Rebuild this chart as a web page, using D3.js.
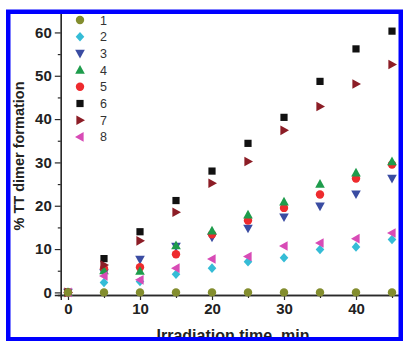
<!DOCTYPE html>
<html><head><meta charset="utf-8">
<script src="https://cdn.jsdelivr.net/npm/d3@7"></script>
<style>html,body{margin:0;padding:0;background:#fff;}svg{display:block;}</style>
</head><body>
<svg id="chart" width="405" height="341"></svg>
<script>
const times = [0, 5, 10, 15, 20, 25, 30, 35, 40, 45];
const seriesNames = ["1", "2", "3", "4", "5", "6", "7", "8"];
const s1 = [0, 0, 0, 0, 0, 0, 0, 0, 0, 0];
const s2 = [0, 2.3, 2.5, 4.2, 5.6, 7.1, 8.0, 9.9, 10.5, 12.2];
const s3 = [0, 4.5, 7.6, 10.6, 12.7, 14.8, 17.4, 19.9, 22.7, 26.3];
const s4 = [0, 5.0, 4.9, 10.8, 14.2, 17.9, 20.9, 25.0, 27.6, 30.2];
const s5 = [0, 5.5, 5.8, 8.8, 13.4, 16.6, 19.5, 22.6, 26.3, 29.5];
const s6 = [0, 7.8, 14.0, 21.2, 28.0, 34.4, 40.4, 48.7, 56.2, 60.3];
const s7 = [0, 6.3, 11.9, 18.5, 25.2, 30.2, 37.4, 42.9, 48.1, 52.6];
const s8 = [0, 3.8, 2.9, 5.6, 7.7, 8.3, 10.7, 11.4, 12.4, 13.7];
const yTicks = [0, 10, 20, 30, 40, 50, 60];
const xTicks = [0, 10, 20, 30, 40];
const yTitle = "% TT dimer formation";
const xTitle = "Irradiation time, min";

const values = [s1, s2, s3, s4, s5, s6, s7, s8];
const colors = ["#838d2e", "#35bcd6", "#3a4ca2", "#1e9c4c", "#ee2b2e", "#111111", "#8c1d26", "#d84bb6"];
const shapes = ["circle", "diamond", "tridown", "triup", "circle", "square", "triright", "trileft"];
const drawOrder = [1, 2, 4, 3, 5, 6, 7, 0];

const svg = d3.select("#chart");
const x = d3.scaleLinear().domain([-1, 46]).range([60.8, 399.2]);
const y = d3.scaleLinear().domain([-0.6, 64.6]).range([295, 12.5]);

function markerPath(shape) {
  const p = d3.path();
  if (shape === "circle") { p.arc(0, 0, 4.2, 0, 2 * Math.PI); }
  else if (shape === "square") { p.rect(-3.6, -3.6, 7.2, 7.2); }
  else if (shape === "diamond") { p.moveTo(0, -4.8); p.lineTo(4.3, 0); p.lineTo(0, 4.8); p.lineTo(-4.3, 0); p.closePath(); }
  else if (shape === "triup") { p.moveTo(0, -5); p.lineTo(4.8, 3.6); p.lineTo(-4.8, 3.6); p.closePath(); }
  else if (shape === "tridown") { p.moveTo(0, 5); p.lineTo(4.8, -3.6); p.lineTo(-4.8, -3.6); p.closePath(); }
  else if (shape === "triright") { p.moveTo(5, 0); p.lineTo(-3.6, 4.8); p.lineTo(-3.6, -4.8); p.closePath(); }
  else if (shape === "trileft") { p.moveTo(-5, 0); p.lineTo(3.6, 4.8); p.lineTo(3.6, -4.8); p.closePath(); }
  return p.toString();
}

svg.append("defs").append("clipPath").attr("id", "clip")
  .append("rect").attr("x", 10).attr("y", 13).attr("width", 389).attr("height", 325);

const g = svg.append("g").attr("clip-path", "url(#clip)");

// axes
const yAxisMinor = d3.axisLeft(y).tickValues([5, 15, 25, 35, 45, 55]).tickSize(3).tickFormat("");
const yAxis = d3.axisLeft(y).tickValues(yTicks).tickSize(6).tickPadding(3);
const xAxisMinor = d3.axisBottom(x).tickValues([5, 15, 25, 35, 45]).tickSize(3).tickFormat("");
const xAxis = d3.axisBottom(x).tickValues(xTicks).tickSize(5).tickPadding(3);

function styleAxis(sel) {
  sel.select(".domain").attr("stroke", "#2a2a2a").attr("stroke-width", 1.4);
  sel.selectAll(".tick line").attr("stroke", "#2a2a2a").attr("stroke-width", 1.2);
  sel.selectAll(".tick text").attr("fill", "#222").attr("font-family", "Liberation Sans, Arial, sans-serif")
    .attr("font-weight", "bold").attr("font-size", 15);
}
g.append("g").attr("transform", `translate(${x(-1)},0)`).call(yAxisMinor).call(styleAxis);
g.append("g").attr("transform", `translate(${x(-1)},0)`).call(yAxis).call(styleAxis);
g.append("g").attr("transform", `translate(0,${y(-0.6)})`).call(xAxisMinor).call(styleAxis);
g.append("g").attr("transform", `translate(0,${y(-0.6)})`).call(xAxis).call(styleAxis);

// markers
drawOrder.forEach(si => {
  g.append("g").selectAll("path").data(values[si].map((v, i) => [times[i], v]))
    .join("path")
    .attr("d", markerPath(shapes[si]))
    .attr("transform", d => `translate(${x(d[0])},${y(d[1])})`)
    .attr("fill", colors[si]);
});

// legend
const legend = g.append("g");
seriesNames.forEach((name, i) => {
  const ly = 20 + i * 16.7;
  legend.append("path").attr("d", markerPath(shapes[i])).attr("transform", `translate(80,${ly})`).attr("fill", colors[i]);
  legend.append("text").attr("x", 100).attr("y", ly + 4.5).text(name)
    .attr("font-family", "Liberation Sans, Arial, sans-serif").attr("font-size", 12.5).attr("fill", "#333");
});

// titles
g.append("text").attr("transform", "translate(24,156) rotate(-90)").attr("text-anchor", "middle")
  .attr("font-family", "Liberation Sans, Arial, sans-serif").attr("font-weight", "bold").attr("font-size", 14.5)
  .attr("fill", "#222").text(yTitle);
g.append("text").attr("x", 233).attr("y", 341).attr("text-anchor", "middle")
  .attr("font-family", "Liberation Sans, Arial, sans-serif").attr("font-weight", "bold").attr("font-size", 16)
  .attr("fill", "#222").text(xTitle);

// frame
svg.append("rect").attr("x", 8.25).attr("y", 11.75).attr("width", 392.5).attr("height", 327.5)
  .attr("fill", "none").attr("stroke", "#0000ff").attr("stroke-width", 4.5);
</script>
</body></html>
